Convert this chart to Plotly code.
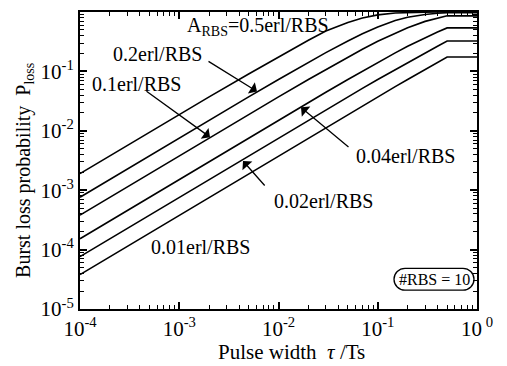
import plotly.graph_objects as go

# Pulse width tau/Ts (x) and burst loss probability (y) per offered load
tau = [1e-4, 2e-4, 5e-4, 1e-3, 2e-3, 5e-3, 1e-2, 2e-2, 3e-2, 5e-2, 7e-2,
       0.1, 0.15, 0.2, 0.3, 0.4, 0.5, 1.0]

p_050 = [0.0019, 0.00379, 0.00946, 0.0188, 0.0373, 0.0906, 0.175, 0.335, 0.48,
         0.665, 0.79, 0.895, 0.96, 0.985, 0.997, 0.9995, 0.9999, 0.9999]
p_020 = [0.00076, 0.00152, 0.00379, 0.00757, 0.0151, 0.0373, 0.0732, 0.142, 0.207,
         0.325, 0.43, 0.56, 0.72, 0.815, 0.91, 0.955, 0.975, 0.975]
p_010 = [0.00038, 0.00076, 0.0019, 0.00379, 0.00757, 0.0188, 0.0373, 0.0732, 0.1077,
         0.173, 0.236, 0.322, 0.445, 0.545, 0.695, 0.795, 0.862, 0.862]
p_004 = [0.000152, 0.000304, 0.00076, 0.00152, 0.00304, 0.00757, 0.0151, 0.0299, 0.0446,
         0.0732, 0.101, 0.141, 0.205, 0.265, 0.37, 0.46, 0.54, 0.54]
p_002 = [7.6e-5, 1.52e-4, 3.8e-4, 7.6e-4, 1.52e-3, 3.79e-3, 7.57e-3, 0.0151, 0.0225,
         0.0373, 0.0518, 0.0732, 0.1077, 0.141, 0.205, 0.265, 0.325, 0.325]
p_001 = [3.8e-5, 7.6e-5, 1.9e-4, 3.8e-4, 7.6e-4, 1.9e-3, 3.79e-3, 7.57e-3, 0.01134,
         0.0188, 0.02625, 0.0373, 0.0554, 0.0732, 0.1077, 0.141, 0.175, 0.175]

series = [p_050, p_020, p_010, p_004, p_002, p_001]

x_tickvals = [1e-4, 1e-3, 1e-2, 1e-1, 1]
x_ticktext = ["10<sup>-4</sup>", "10<sup>-3</sup>", "10<sup>-2</sup>", "10<sup>-1</sup>", "10<sup> 0</sup>"]
y_tickvals = [1e-5, 1e-4, 1e-3, 1e-2, 1e-1, 1]
y_ticktext = ["10<sup>-5</sup>", "10<sup>-4</sup>", "10<sup>-3</sup>", "10<sup>-2</sup>", "10<sup>-1</sup>", "10<sup> 0</sup>"]

FONT = "Liberation Serif, Times New Roman, serif"

fig = go.Figure()
for s in series:
    fig.add_trace(go.Scatter(x=tau, y=s, mode="lines",
                             line=dict(color="black", width=1.6),
                             showlegend=False, hoverinfo="skip"))

# page has an 8px body margin; plot area wanted at page x 80..477, y 10..309
OFF = 8
W, H = 499, 358
PL, PT, PR, PB = 80, 10, 477, 309
PW, PH = PR - PL, PB - PT


def px(xp):
    return (xp - PL) / PW


def py(yp):
    return (PB - yp) / PH


minor_x = [m * 10 ** e for e in range(-4, 0) for m in range(2, 10)]
minor_y = [m * 10 ** e for e in range(-5, 0) for m in range(2, 10)]

axis_common = dict(
    type="log", showgrid=False, zeroline=False,
    showline=True, linecolor="black", linewidth=2, mirror="ticks",
    ticks="inside", ticklen=7, tickwidth=1.5, tickcolor="black",
    tickfont=dict(family=FONT, size=21, color="black"),
    tickmode="array",
)

fig.update_xaxes(**axis_common, range=[-4, 0], tickvals=x_tickvals, ticktext=x_ticktext,
                 minor=dict(tickmode="array", tickvals=minor_x, ticks="inside",
                            ticklen=4, tickwidth=1, tickcolor="black", showgrid=False))
fig.update_yaxes(**axis_common, range=[-5, 0], tickvals=y_tickvals, ticktext=y_ticktext,
                 minor=dict(tickmode="array", tickvals=minor_y, ticks="inside",
                            ticklen=4, tickwidth=1, tickcolor="black", showgrid=False))

lab_font = dict(family=FONT, size=20, color="black")
labels = [
    ("A<sub>RBS</sub>=0.5erl/RBS", 258, 25, 20),
    ("0.2erl/RBS", 157, 52, 20),
    ("0.1erl/RBS", 136, 82, 20),
    ("0.04erl/RBS", 405, 155, 20),
    ("0.02erl/RBS", 323, 200, 20),
    ("0.01erl/RBS", 200, 247, 20),
    ("#RBS = 10", 434, 279, 16),
]
annotations = []
for text, xp, yp, fs in labels:
    annotations.append(dict(text=text, x=px(xp), y=py(yp), xref="paper", yref="paper",
                            xanchor="center", yanchor="middle", showarrow=False,
                            font=dict(family=FONT, size=fs, color="black")))

arrows = [  # tip (page px), tail (page px)
    ((257, 90), (207, 59)),
    ((210, 136), (145, 89)),
    ((301, 106), (350, 147)),
    ((243, 160), (266, 186)),
]
for (tx, ty), (sx, sy) in arrows:
    annotations.append(dict(text="", x=px(tx), y=py(ty), xref="paper", yref="paper",
                            showarrow=True, ax=sx - tx, ay=sy - ty,
                            arrowhead=1, arrowsize=1.7, arrowwidth=1.3,
                            arrowcolor="black", standoff=0, startstandoff=0))

annotations.append(dict(text="Burst loss probability\u00a0\u00a0P<sub>loss</sub>", x=px(25), y=py(170),
                        xref="paper", yref="paper", textangle=-90, showarrow=False,
                        xanchor="center", yanchor="middle", font=lab_font))
annotations.append(dict(text="Pulse width\u00a0\u00a0<i>τ</i> /Ts", x=px(291), y=py(352),
                        xref="paper", yref="paper", showarrow=False,
                        xanchor="center", yanchor="middle",
                        font=dict(family=FONT, size=21, color="black")))

# rounded box around "#RBS = 10"
bx0, bx1, byT, byB, r = 394, 474, 268, 290, 11
k = 0.5523
ym = (byT + byB) / 2


def P(xp, yp):
    return f"{px(xp):.5f},{py(yp):.5f}"


path = (f"M {P(bx0 + r, byT)} L {P(bx1 - r, byT)} "
        f"C {P(bx1 - r + k * r, byT)} {P(bx1, ym - k * r)} {P(bx1, ym)} "
        f"C {P(bx1, ym + k * r)} {P(bx1 - r + k * r, byB)} {P(bx1 - r, byB)} "
        f"L {P(bx0 + r, byB)} "
        f"C {P(bx0 + r - k * r, byB)} {P(bx0, ym + k * r)} {P(bx0, ym)} "
        f"C {P(bx0, ym - k * r)} {P(bx0 + r - k * r, byT)} {P(bx0 + r, byT)} Z")

fig.update_layout(
    width=W, height=H,
    margin=dict(l=PL - OFF, r=W + OFF - PR, t=PT - OFF, b=H + OFF - PB),
    paper_bgcolor="white", plot_bgcolor="white",
    annotations=annotations,
    shapes=[dict(type="path", path=path, xref="paper", yref="paper",
                 line=dict(color="black", width=1.3))],
)

fig.write_html("out.html")
